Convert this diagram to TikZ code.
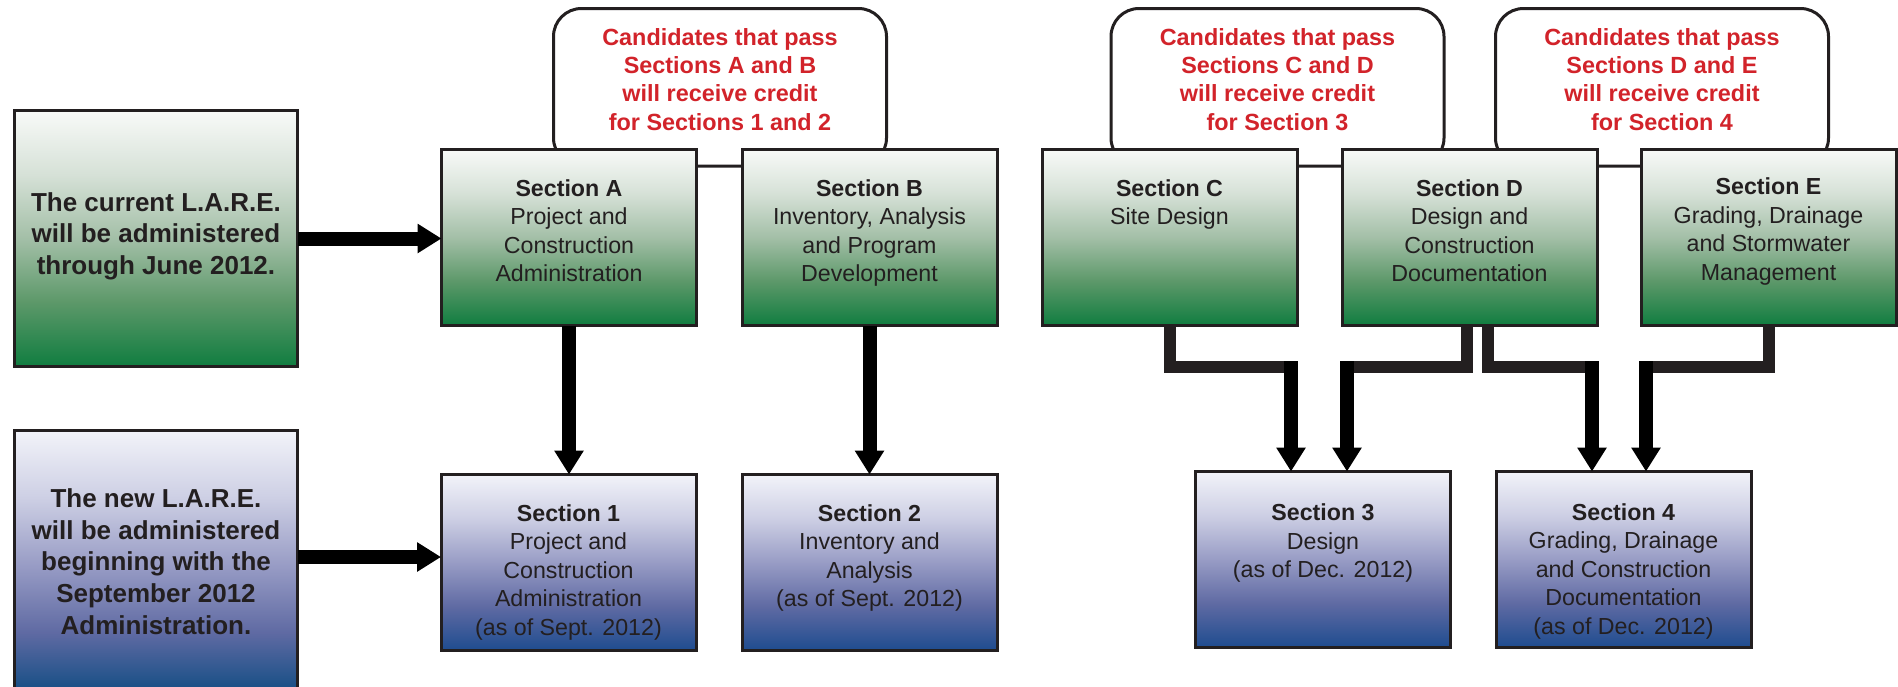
\documentclass[tikz,border=0pt]{standalone}
\usepackage{fontspec}
\setmainfont{Liberation Sans}
\usetikzlibrary{arrows.meta}
\definecolor{dk}{RGB}{35,31,32}
\definecolor{rd}{RGB}{210,35,42}
\definecolor{gt}{RGB}{248,250,248}
\definecolor{g1}{RGB}{214,225,215}
\definecolor{g2}{RGB}{163,191,167}
\definecolor{g3}{RGB}{92,152,105}
\definecolor{gb}{RGB}{16,125,64}
\definecolor{bt}{RGB}{242,243,249}
\definecolor{b1}{RGB}{205,207,228}
\definecolor{b2}{RGB}{152,156,197}
\definecolor{b3}{RGB}{95,106,163}
\definecolor{bb}{RGB}{30,76,143}
\definecolor{bbb}{RGB}{10,74,128}
\pgfdeclareverticalshading{gshade}{100bp}{color(0bp)=(gb); color(25bp)=(gb); color(37.5bp)=(g3); color(50bp)=(g2); color(62.5bp)=(g1); color(75bp)=(gt); color(100bp)=(gt)}
\pgfdeclareverticalshading{bshade}{100bp}{color(0bp)=(bb); color(25bp)=(bb); color(37.5bp)=(b3); color(50bp)=(b2); color(62.5bp)=(b1); color(75bp)=(bt); color(100bp)=(bt)}
\pgfdeclareverticalshading{bshadeL}{100bp}{color(0bp)=(bbb); color(25bp)=(bbb); color(37.5bp)=(b3); color(50bp)=(b2); color(62.5bp)=(b1); color(75bp)=(bt); color(100bp)=(bt)}
\newcommand\bxt[4]{\parbox[c][#1][t]{#2}{\centering\rule{0pt}{#3}#4}}
\begin{document}
\begin{tikzpicture}[x=1pt,y=-1pt,
  box/.style={draw=dk, line width=3pt, inner sep=0pt, outer sep=0pt, text=dk,
    font=\fontsize{23.2pt}{28.5pt}\selectfont},
  gbox/.style={box, shade, shading=gshade},
  bbox/.style={box, shade, shading=bshade},
  lbox/.style={draw=dk, line width=3pt, inner sep=0pt, outer sep=0pt, text=dk,
    font=\bfseries\fontsize{26pt}{31.7pt}\selectfont},
  bubble/.style={draw=dk, line width=3pt, fill=white, rounded corners=28pt,
    inner sep=0pt, outer sep=0pt, text=rd,
    font=\bfseries\fontsize{23.4pt}{28.1pt}\selectfont},
  arr/.style={line width=14pt, draw=black, -{Triangle[length=24pt,width=28pt]}},
  bar/.style={draw=dk, line width=12pt, line join=miter}]
\useasboundingbox (0,0) rectangle (1898,686);
\clip (0,0) rectangle (1898,686);

% bubbles
\node[bubble] (T1) at (720,87.25) {\bxt{157.5pt}{333pt}{37.2pt}{Candidates that pass\\Sections A and B\\will receive credit\\for Sections 1 and 2}};
\node[bubble] (T2) at (1277.5,87.25) {\bxt{157.5pt}{333pt}{37.2pt}{Candidates that pass\\Sections C and D\\will receive credit\\for Section 3}};
\node[bubble] (T3) at (1662,87.25) {\bxt{157.5pt}{333pt}{37.2pt}{Candidates that pass\\Sections D and E\\will receive credit\\for Section 4}};

% left boxes
\node[lbox, shade, shading=gshade] (L1) at (156,238.5) {\bxt{256pt}{283pt}{100.5pt}{The current L.A.R.E.\\will be administered\\through June 2012.}};
\node[lbox, shade, shading=bshadeL] (L2) at (156,565.25) {\bxt{269.5pt}{283pt}{76.8pt}{The new L.A.R.E.\\will be administered\\beginning with the\\September 2012\\Administration.}};

% upper boxes
\node[gbox] (A) at (569,237.5) {\bxt{176pt}{255pt}{46.5pt}{\textbf{Section A}\\Project and\\Construction\\Administration}};
\node[gbox] (B) at (869.5,237.5) {\bxt{176pt}{255pt}{46.5pt}{\textbf{Section B}\\Inventory, Analysis\\and Program\\Development}};
\node[gbox] (C) at (1169.5,237.5) {\bxt{176pt}{255pt}{46.5pt}{\textbf{Section C}\\Site Design}};
\node[gbox] (D) at (1469.5,237.5) {\bxt{176pt}{255pt}{46.5pt}{\textbf{Section D}\\Design and\\Construction\\Documentation}};
\node[gbox] (E) at (1768.5,237.5) {\bxt{176pt}{255pt}{45pt}{\textbf{Section E}\\Grading, Drainage\\and Stormwater\\Management}};

% lower boxes
\node[bbox] (S1) at (568.5,562.5) {\bxt{176pt}{255pt}{46.5pt}{\textbf{Section 1}\\Project and\\Construction\\Administration\\(as of Sept. 2012)}};
\node[bbox] (S2) at (869.5,562.5) {\bxt{176pt}{255pt}{46.5pt}{\textbf{Section 2}\\Inventory and\\Analysis\\(as of Sept. 2012)}};
\node[bbox] (S3) at (1323,559.5) {\bxt{176pt}{255pt}{49pt}{\textbf{Section 3}\\Design\\(as of Dec. 2012)}};
\node[bbox] (S4) at (1623.5,559.5) {\bxt{176pt}{255pt}{48.5pt}{\textbf{Section 4}\\Grading, Drainage\\and Construction\\Documentation\\(as of Dec. 2012)}};

% connectors
\coordinate (h2) at (299,557);
\draw[arr] (L1.east) -- (L1.east -| A.west);
\draw[arr] (L2.east |- h2) -- (S1.west |- h2);
\draw[arr] (A.south) -- (A.south |- S1.north);
\draw[arr] (B.south) -- (B.south |- S2.north);

\coordinate (j1) at (1291,367);
\coordinate (j2) at (1347,367);
\coordinate (j3) at (1592,367);
\coordinate (j4) at (1646,367);
\draw[bar] ([xshift=0.5pt]C.south) |- (j1);
\draw[bar] ([xshift=-2.5pt]D.south) |- (j2);
\draw[bar] ([xshift=18.5pt]D.south) |- (j3);
\draw[bar] ([xshift=0.5pt]E.south) |- (j4);
\draw[arr] ([yshift=6pt]j1) -- (j1 |- S3.north);
\draw[arr] ([yshift=6pt]j2) -- (j2 |- S3.north);
\draw[arr] ([yshift=6pt]j3) -- (j3 |- S4.north);
\draw[arr] ([yshift=6pt]j4) -- (j4 |- S4.north);
\end{tikzpicture}
\end{document}
